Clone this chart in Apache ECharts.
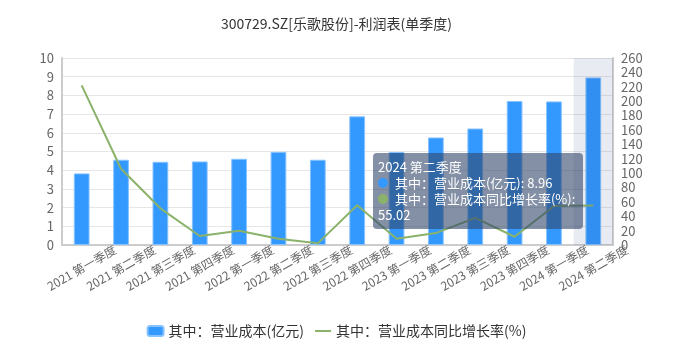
<!DOCTYPE html>
<html>
<head>
<meta charset="utf-8">
<script src="https://cdn.jsdelivr.net/npm/echarts@6/dist/echarts.min.js"></script>
<style>
  html, body { margin: 0; padding: 0; background: #fff; }
  #main { width: 673px; height: 351px; }
</style>
</head>
<body>
<div id="main"></div>
<script>
const quarters = ['2021 第一季度', '2021 第二季度', '2021 第三季度', '2021 第四季度',
  '2022 第一季度', '2022 第二季度', '2022 第三季度', '2022 第四季度',
  '2023 第一季度', '2023 第二季度', '2023 第三季度', '2023 第四季度',
  '2024 第一季度', '2024 第二季度']
const costValues = [3.83, 4.56, 4.45, 4.47, 4.61, 4.98, 4.56, 6.88, 4.97, 5.75, 6.23, 7.70, 7.68, 8.96]
const growthValues = [222, 106, 51, 12.5, 19.9, 8.8, 2.3, 55.2, 8.7, 16.6, 37.7, 11.5, 54.3, 55.02]
const legends = ['其中：营业成本(亿元)', '其中：营业成本同比增长率(%)']

const font = '"Noto Sans CJK SC", "Microsoft YaHei", sans-serif'

const chart = echarts.init(document.getElementById('main'))

const option = {
  animation: false,
  textStyle: { fontFamily: font },
  title: {
    text: '300729.SZ[乐歌股份]-利润表(单季度)',
    left: 'center',
    top: 12,
    textStyle: { fontSize: 14, fontWeight: 'normal', color: '#333', fontFamily: font }
  },
  grid: { left: 62, right: 60, top: 58, bottom: 106 },
  tooltip: {
    trigger: 'axis',
    triggerOn: 'none',
    axisPointer: { type: 'shadow', shadowStyle: { color: 'rgba(30,60,120,0.1)' } },
    backgroundColor: 'rgba(50,70,105,0.6)',
    borderWidth: 0,
    padding: [6, 5],
    textStyle: { color: '#fff', fontSize: 13, fontFamily: font },
    extraCssText: 'width:200px;white-space:normal;border-radius:4px;box-shadow:none;line-height:16px;',
    position: () => [373, 153],
    formatter: params => {
      let s = params[0].name
      params.forEach(p => {
        s += '<br/>' + p.marker + ' ' + p.seriesName + ': ' + p.value
      })
      return s
    }
  },
  legend: {
    data: [
      { name: legends[0] },
      { name: legends[1], itemStyle: { opacity: 0 } }
    ],
    bottom: 8,
    itemWidth: 16,
    itemHeight: 10,
    itemGap: 10,
    textStyle: { color: '#333', fontSize: 14, fontFamily: font }
  },
  xAxis: {
    type: 'category',
    data: quarters,
    axisTick: { show: false },
    axisLine: { lineStyle: { color: '#ccc', width: 2 } },
    axisLabel: {
      interval: 0, rotate: 30, color: '#666', fontSize: 12, margin: 23,
      align: 'center', verticalAlign: 'middle'
    }
  },
  yAxis: [
    {
      type: 'value',
      min: 0, max: 10, interval: 1,
      axisLine: { show: true, lineStyle: { color: '#ccc', width: 2 } },
      axisLabel: { color: '#666', fontSize: 13 },
      splitLine: { lineStyle: { color: '#e6e6e6' } }
    },
    {
      type: 'value',
      min: 0, max: 260, interval: 20,
      axisLine: { show: true, lineStyle: { color: '#ccc', width: 2 } },
      axisLabel: { color: '#666', fontSize: 13 },
      splitLine: { show: false }
    }
  ],
  series: [
    {
      name: legends[0],
      type: 'bar',
      data: costValues,
      barWidth: '40%',
      itemStyle: { color: '#3399ff', borderColor: '#88c2ff', borderWidth: 1 },
      emphasis: { disabled: true }
    },
    {
      name: legends[1],
      type: 'line',
      yAxisIndex: 1,
      data: growthValues,
      symbol: 'none',
      symbolSize: 0,
      lineStyle: { color: '#8bb26a', width: 2 },
      itemStyle: { color: '#8bb26a' },
      emphasis: { disabled: true }
    }
  ]
}

chart.setOption(option)
chart.dispatchAction({ type: 'showTip', seriesIndex: 0, dataIndex: quarters.length - 1 })
</script>
</body>
</html>
